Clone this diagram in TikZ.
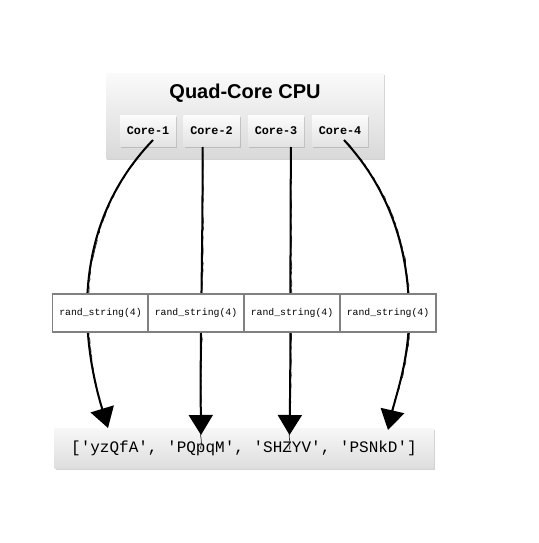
\documentclass[tikz,border=0pt]{standalone}
\usepackage{fontspec}
\setmainfont{Liberation Sans}
\setmonofont{Liberation Mono}
\usetikzlibrary{arrows.meta,shadows,decorations.pathmorphing}
\tikzset{
  greybox/.style={rectangle,draw=none,top color=gray!4,bottom color=gray!30,
    drop shadow={opacity=0.35,shadow xshift=1pt,shadow yshift=-1.5pt}},
  corebox/.style={greybox,top color=gray!3,bottom color=gray!22,minimum width=56pt,
    minimum height=31pt,font=\ttfamily\bfseries\fontsize{11.8}{12}\selectfont,inner sep=0pt},
  callbox/.style={rectangle,draw=gray,line width=1.3pt,fill=white,minimum width=96pt,
    minimum height=38pt,font=\ttfamily\fontsize{9.8}{11}\selectfont,inner sep=0pt},
  sketch/.style={line width=2pt,black,-{Triangle[width=24pt,length=20pt]}},
  rough/.style={line width=0.7pt,black!85,decorate,
    decoration={random steps,segment length=3pt,amplitude=0.6pt}},
}
\begin{document}
\begin{tikzpicture}[x=1pt,y=-1pt]
\useasboundingbox (0,0) rectangle (538,543);
% processor
\node[greybox,minimum width=278pt,minimum height=85pt] (cpu) at (245,116) {};
\node[font=\bfseries\fontsize{20}{22}\selectfont] (title) at (245,93) {Quad-Core CPU};
\node[corebox] (c1) at (148,131) {Core-1};
\node[corebox] (c2) at (211.5,131) {Core-2};
\node[corebox] (c3) at (276,131) {Core-3};
\node[corebox] (c4) at (340,131) {Core-4};
% output list
\node[greybox,top color=gray!6,bottom color=gray!26,minimum width=379pt,minimum height=40pt,
  font=\ttfamily\fontsize{16}{17}\selectfont,inner sep=0pt] (res) at (244,448)
  {['yzQfA', 'PQpqM', 'SHZYV', 'PSNkD']};
\coordinate (t1) at (108,428);
\coordinate (t2) at (201,435);
\coordinate (t3) at (289.5,435);
\coordinate (t4) at (388,430);
% arrows
\draw[rough] ([shift={(5,9)}]c1.center) .. controls (106,190) and (87,250) .. (88,315)
  .. controls (89,360) and (98,395) .. ([shift={(-4,-14)}]t1);
\draw[sketch] ([shift={(5,9)}]c1.center) .. controls (105,190) and (86,250) .. (87,315)
  .. controls (88,360) and (98,395) .. (t1);
\draw[rough] ([shift={(-9,16)}]c2.center) .. controls (204,250) and (201,330) .. ([yshift=-14]t2);
\draw[sketch] ([shift={(-9,16)}]c2.center) .. controls (203,250) and (200,330) .. (t2);
\draw[rough] ([shift={(15,16)}]c3.center) .. controls (291,250) and (292,330) .. ([yshift=-14]t3);
\draw[sketch] ([shift={(15,16)}]c3.center) .. controls (290,250) and (291,330) .. (t3);
\draw[rough] ([shift={(4,9)}]c4.center) .. controls (391,190) and (410,250) .. (410,315)
  .. controls (410,360) and (397,395) .. ([shift={(2,-14)}]t4);
\draw[sketch] ([shift={(4,9)}]c4.center) .. controls (390,190) and (409,250) .. (409,315)
  .. controls (409,360) and (396,395) .. (t4);
% calls
\node[callbox] (r1) at (100.5,313) {rand\_string(4)};
\node[callbox] (r2) at (196,313) {rand\_string(4)};
\node[callbox] (r3) at (292,313) {rand\_string(4)};
\node[callbox] (r4) at (388,313) {rand\_string(4)};
\end{tikzpicture}
\end{document}
